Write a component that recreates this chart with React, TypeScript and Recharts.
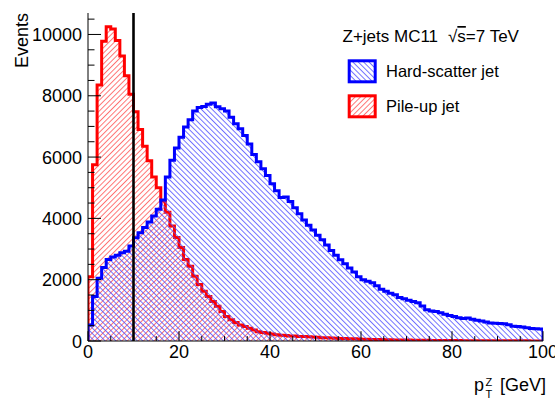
import { ComposedChart, Area, XAxis, YAxis, ReferenceLine } from "recharts";

// Z+jets MC11, jet counts per 1 GeV bin of pT(Z)
const BIN_WIDTH = 1;

const hardScatter = [
  520, 1450, 2050, 2400, 2660, 2740, 2800, 2880, 2930, 3100,
  3370, 3530, 3700, 3880, 4080, 4300, 4600, 5350, 5900, 6300,
  6650, 6980, 7220, 7500, 7620, 7650, 7720, 7760, 7640, 7580,
  7500, 7300, 7090, 6920, 6700, 6430, 6080, 5850, 5620, 5400,
  5130, 4900, 4680, 4700, 4550, 4350, 4150, 3950, 3780, 3620,
  3450, 3300, 3130, 2950, 2800, 2650, 2520, 2380, 2250, 2100,
  2000, 1950, 1900, 1800, 1690, 1620, 1560, 1510, 1420, 1380,
  1330, 1290, 1250, 1140, 1020, 980, 960, 920, 870, 830,
  800, 760, 730, 750, 710, 680, 650, 620, 590, 580,
  570, 560, 530, 480, 470, 460, 430, 410, 400, 390,
];

const pileUp = [
  2100, 5750, 8350, 9780, 10250, 10180, 9800, 9300, 8650, 8050,
  7480, 6900, 6350, 5880, 5350, 5000, 4570, 4200, 3750, 3380,
  3050, 2660, 2440, 2110, 1840, 1620, 1450, 1290, 1130, 960,
  800, 690, 600, 520, 470, 420, 360, 300, 280, 250,
  230, 200, 190, 180, 165, 160, 150, 145, 135, 130,
  120, 110, 105, 95, 90, 85, 80, 75, 70, 65,
  60, 56, 52, 48, 45, 42, 39, 36, 33, 31,
  29, 27, 25, 23, 21, 20, 19, 17, 16, 15,
  14, 13, 12, 11, 11, 10, 9, 9, 8, 8,
  7, 7, 6, 6, 5, 5, 5, 4, 4, 4,
];

const X_TICKS = [0, 5, 10, 15, 20, 25, 30, 35, 40, 45, 50, 55, 60, 65, 70, 75, 80, 85, 90, 95, 100];
const Y_TICKS = [
  0, 500, 1000, 1500, 2000, 2500, 3000, 3500, 4000, 4500, 5000,
  5500, 6000, 6500, 7000, 7500, 8000, 8500, 9000, 9500, 10000, 10500,
];
const PT_CUT = 10;

const FONT = "'Liberation Sans', Arial, Helvetica, sans-serif";
const BLUE = "#0000ff";
const RED = "#ff0000";

// histogram outline: start/end on the baseline so the step edges are drawn
const lastBin = hardScatter.length - 1;
const rows = [{ pt: 0, hs: 0, pu: 0 }];
hardScatter.forEach((v, i) => rows.push({ pt: i * BIN_WIDTH, hs: v, pu: pileUp[i] }));
rows.push({ pt: hardScatter.length * BIN_WIDTH, hs: hardScatter[lastBin], pu: pileUp[lastBin] });
rows.push({ pt: hardScatter.length * BIN_WIDTH, hs: 0, pu: 0 });

function Hatch({ id, color, angle }: { id: string; color: string; angle: number }) {
  return (
    <pattern id={id} width={3.8} height={10} patternUnits="userSpaceOnUse" patternTransform={`rotate(${angle})`}>
      <line x1={0.5} y1={0} x2={0.5} y2={10} stroke={color} strokeWidth={0.8} />
    </pattern>
  );
}

function BottomTick(props: any) {
  const { x, y, payload } = props;
  const major = payload.value % 20 === 0;
  return (
    <g>
      <line x1={x} y1={y} x2={x} y2={y - (major ? 9.8 : 4.9)} stroke="#000" />
      {major && (
        <text x={x} y={y + 17} textAnchor="middle" fontSize={18} fontFamily={FONT} fill="#000">
          {payload.value}
        </text>
      )}
    </g>
  );
}

function TopTick(props: any) {
  const { x, y, payload } = props;
  const major = payload.value % 20 === 0;
  return <line x1={x} y1={y} x2={x} y2={y + (major ? 9.8 : 4.9)} stroke="#000" />;
}

function LeftTick(props: any) {
  const { x, y, payload } = props;
  const major = payload.value % 2000 === 0;
  return (
    <g>
      <line x1={x} y1={y} x2={x + (major ? 13 : 6.5)} y2={y} stroke="#000" />
      {major && (
        <text x={x - 6} y={y + 6.5} textAnchor="end" fontSize={18} fontFamily={FONT} fill="#000">
          {payload.value}
        </text>
      )}
    </g>
  );
}

function RightTick(props: any) {
  const { x, y, payload } = props;
  const major = payload.value % 2000 === 0;
  return <line x1={x} y1={y} x2={x - (major ? 13 : 6.5)} y2={y} stroke="#000" />;
}

function XTitle(props: any) {
  const { x, y, width } = props.viewBox;
  const right = x + width;
  return (
    <g fontFamily={FONT} fill="#000">
      <text x={right - 69} y={y + 50} fontSize={18}>p</text>
      <text x={right - 57.5} y={y + 45} fontSize={11}>Z</text>
      <text x={right - 57.5} y={y + 57} fontSize={11}>T</text>
      <text x={right + 3} y={y + 50} fontSize={18} textAnchor="end">[GeV]</text>
    </g>
  );
}

function YTitle(props: any) {
  const { x, y } = props.viewBox;
  const tx = x + 28;
  return (
    <text x={tx} y={y} transform={`rotate(-90, ${tx}, ${y})`} textAnchor="end" fontSize={18} fontFamily={FONT} fill="#000">
      Events
    </text>
  );
}

function Overlay() {
  return (
    <svg width={555} height={399} style={{ position: "absolute", left: 0, top: 0, pointerEvents: "none" }}>
      <defs>
        <Hatch id="legHatchBlue" color="#4d4dff" angle={-45} />
        <Hatch id="legHatchRed" color="#ff5050" angle={45} />
      </defs>
      <g fontFamily={FONT} fill="#000">
        <text x={342.5} y={42} fontSize={17}>Z+jets MC11</text>
        <text x={448} y={42} fontSize={17}>
          √<tspan style={{ textDecoration: "overline" }}>s</tspan>=7 TeV
        </text>
        <rect x={349.2} y={60.8} width={26} height={21} fill="url(#legHatchBlue)" stroke={BLUE} strokeWidth={3} />
        <text x={386} y={77} fontSize={16.5}>Hard-scatter jet</text>
        <rect x={349.2} y={95.8} width={26} height={21} fill="url(#legHatchRed)" stroke={RED} strokeWidth={3} />
        <text x={386} y={111.5} fontSize={16.5}>Pile-up jet</text>
      </g>
    </svg>
  );
}

export default function App() {
  return (
    <div style={{ position: "absolute", left: 0, top: 0, width: 555, height: 399, background: "#fff" }}>
      <ComposedChart width={555} height={399} data={rows} margin={{ top: 13, right: 12, bottom: 0, left: 0 }}>
        <defs>
          <Hatch id="hatchBlue" color="#4d4dff" angle={-45} />
          <Hatch id="hatchRed" color="#ff5050" angle={45} />
        </defs>
        <Area
          type="stepAfter"
          dataKey="pu"
          stroke={RED}
          strokeWidth={3}
          strokeLinejoin="miter"
          fill="url(#hatchRed)"
          fillOpacity={1}
          dot={false}
          activeDot={false}
          isAnimationActive={false}
        />
        <Area
          type="stepAfter"
          dataKey="hs"
          stroke={BLUE}
          strokeWidth={3}
          strokeLinejoin="miter"
          fill="url(#hatchBlue)"
          fillOpacity={1}
          dot={false}
          activeDot={false}
          isAnimationActive={false}
        />
        <ReferenceLine x={PT_CUT} stroke="#000" strokeWidth={2.6} />
        <XAxis
          dataKey="pt"
          type="number"
          domain={[0, 100]}
          allowDataOverflow
          ticks={X_TICKS}
          interval={0}
          height={58}
          tickLine={false}
          tickSize={0}
          tickMargin={0}
          tick={<BottomTick />}
          axisLine={{ stroke: "#000" }}
          label={<XTitle />}
        />
        <XAxis
          xAxisId="top"
          orientation="top"
          type="number"
          domain={[0, 100]}
          allowDataOverflow
          ticks={X_TICKS}
          interval={0}
          height={0}
          tickLine={false}
          tickSize={0}
          tickMargin={0}
          tick={<TopTick />}
          axisLine={{ stroke: "#000" }}
        />
        <YAxis
          type="number"
          domain={[0, 10700]}
          allowDataOverflow
          ticks={Y_TICKS}
          interval={0}
          width={88}
          tickLine={false}
          tickSize={0}
          tickMargin={0}
          tick={<LeftTick />}
          axisLine={{ stroke: "#000" }}
          label={<YTitle />}
        />
        <YAxis
          yAxisId="right"
          orientation="right"
          type="number"
          domain={[0, 10700]}
          allowDataOverflow
          ticks={Y_TICKS}
          interval={0}
          width={0}
          tickLine={false}
          tickSize={0}
          tickMargin={0}
          tick={<RightTick />}
          axisLine={{ stroke: "#000" }}
        />
      </ComposedChart>
      <Overlay />
    </div>
  );
}
